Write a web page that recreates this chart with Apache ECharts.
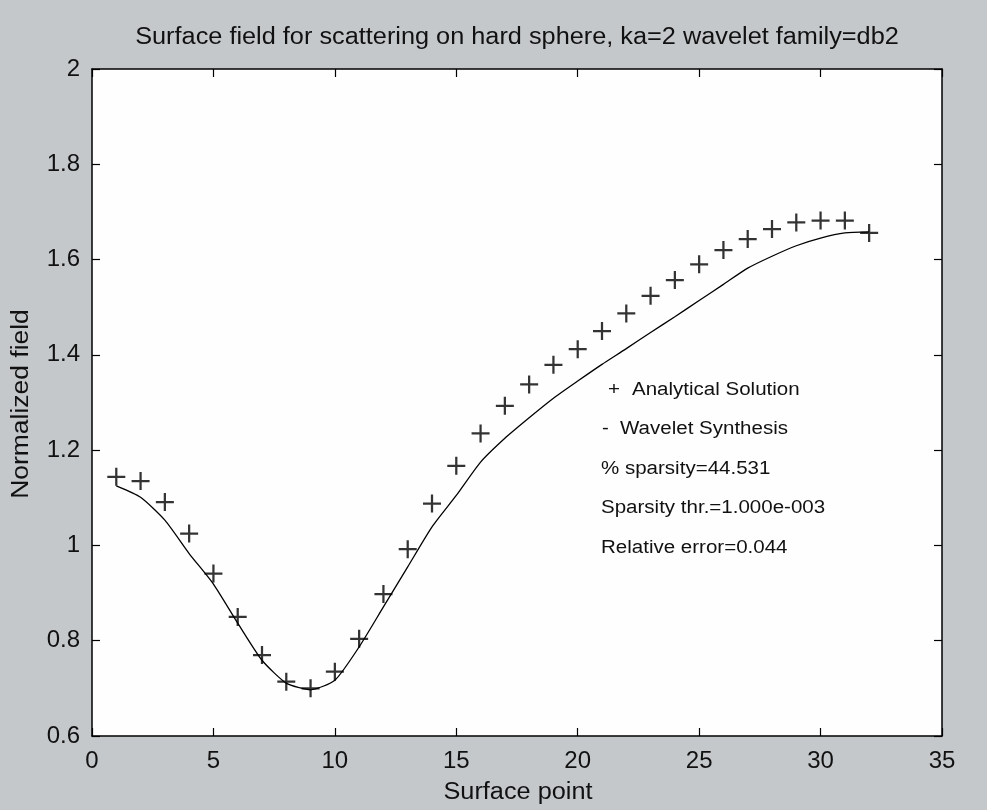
<!DOCTYPE html>
<html>
<head>
<meta charset="utf-8">
<script src="https://cdn.jsdelivr.net/npm/echarts@6/dist/echarts.min.js"></script>
<style>
  html, body { margin: 0; padding: 0; background: #c4c8cb; }
  #chart { width: 987px; height: 810px; }
</style>
</head>
<body>
<div id="chart"></div>
<script>
// surface points 1..32
const surfacePoints = [1, 2, 3, 4, 5, 6, 7, 8, 9, 10, 11, 12, 13, 14, 15, 16,
  17, 18, 19, 20, 21, 22, 23, 24, 25, 26, 27, 28, 29, 30, 31, 32];

// "+" markers
const analytical = [1.144, 1.135, 1.091, 1.025, 0.941, 0.850, 0.770, 0.714,
  0.700, 0.735, 0.804, 0.898, 0.992, 1.088, 1.167, 1.235, 1.293, 1.338, 1.379,
  1.412, 1.450, 1.487, 1.524, 1.557, 1.590, 1.620, 1.643, 1.664, 1.678, 1.682,
  1.682, 1.656];

// solid line
const wavelet = [1.125, 1.101, 1.053, 0.983, 0.919, 0.837, 0.759, 0.711,
  0.697, 0.717, 0.787, 0.871, 0.955, 1.039, 1.105, 1.175, 1.225, 1.268, 1.309,
  1.345, 1.380, 1.413, 1.447, 1.480, 1.514, 1.548, 1.582, 1.607, 1.629, 1.645,
  1.656, 1.658];

const titleText = 'Surface field for scattering on hard sphere, ka=2 wavelet family=db2';
const xName = 'Surface point';
const yName = 'Normalized field';
// text block inside the axes: [marker, label]
const noteLines = [
  ['+', 'Analytical Solution'],
  ['-', 'Wavelet Synthesis'],
  ['', '% sparsity=44.531'],
  ['', 'Sparsity thr.=1.000e-003'],
  ['', 'Relative error=0.044']
];

const FONT = 'Liberation Sans, Arial, sans-serif';
const INK = '#111';
const plusPath = 'path://M7,0H9V7H16V9H9V16H7V9H0V7H7Z';

const chart = echarts.init(document.getElementById('chart'));

const tickAxis = (pos) => ({
  type: 'value',
  position: pos,
  axisLine: { show: true, onZero: false, lineStyle: { color: '#000', width: 1.5 } },
  axisTick: { show: true, inside: true, length: 8, lineStyle: { color: '#000', width: 1.2 } },
  splitLine: { show: false }
});

// matlab text is wider than Liberation Sans, so stretch it
const stretchText = (text, x, y, size, sx, align, rot) => ({
  type: 'text',
  x: x, y: y,
  scaleX: sx,
  rotation: rot || 0,
  silent: true,
  style: {
    text: text, x: 0, y: 0,
    fontFamily: FONT, fontSize: size, fill: INK,
    textAlign: align || 'left', textVerticalAlign: 'middle'
  }
});

const graphics = [
  stretchText(titleText, 517, 38, 23, 1.1, 'center'),
  stretchText(xName, 518, 793, 23, 1.1, 'center'),
  stretchText(yName, 22, 404, 23, 1.15, 'center', Math.PI / 2)
];
noteLines.forEach((row, i) => {
  const y = 390 + i * 39.4;
  if (row[0] === '+') {
    graphics.push(stretchText('+', 608, y, 18, 1.14));
    graphics.push(stretchText(row[1], 632, y, 18, 1.14));
  } else if (row[0] === '-') {
    graphics.push(stretchText('-', 602, y, 18, 1.14));
    graphics.push(stretchText(row[1], 620, y, 18, 1.14));
  } else {
    graphics.push(stretchText(row[1], 601, y, 18, 1.14));
  }
});

const option = {
  backgroundColor: '#c4c8cb',
  animation: false,
  grid: {
    left: 92, right: 45, top: 69, bottom: 74,
    outerBoundsMode: 'none',
    containLabel: false,
    show: true, backgroundColor: '#fefefe', borderWidth: 0
  },
  xAxis: [
    Object.assign(tickAxis('bottom'), {
      min: 0, max: 35, interval: 5,
      axisLabel: { fontFamily: FONT, fontSize: 24, color: INK, margin: 13 }
    }),
    Object.assign(tickAxis('top'), {
      min: 0, max: 35, interval: 5, axisLabel: { show: false }
    })
  ],
  yAxis: [
    Object.assign(tickAxis('left'), {
      min: 0.6, max: 2, interval: 0.2,
      axisLabel: {
        fontFamily: FONT, fontSize: 24, color: INK, margin: 12,
        formatter: (v) => String(Math.round(v * 10) / 10)
      }
    }),
    Object.assign(tickAxis('right'), {
      min: 0.6, max: 2, interval: 0.2, axisLabel: { show: false }
    })
  ],
  series: [
    {
      name: 'Wavelet Synthesis',
      type: 'line',
      data: surfacePoints.map((x, i) => [x, wavelet[i]]),
      showSymbol: false,
      smooth: 0.2,
      lineStyle: { color: '#000', width: 1.3 },
      z: 2
    },
    {
      name: 'Analytical Solution',
      type: 'scatter',
      data: surfacePoints.map((x, i) => [x, analytical[i]]),
      symbol: plusPath,
      symbolSize: 18,
      itemStyle: { color: '#000' },
      z: 3
    }
  ],
  graphic: graphics
};

chart.setOption(option);
</script>
</body>
</html>
